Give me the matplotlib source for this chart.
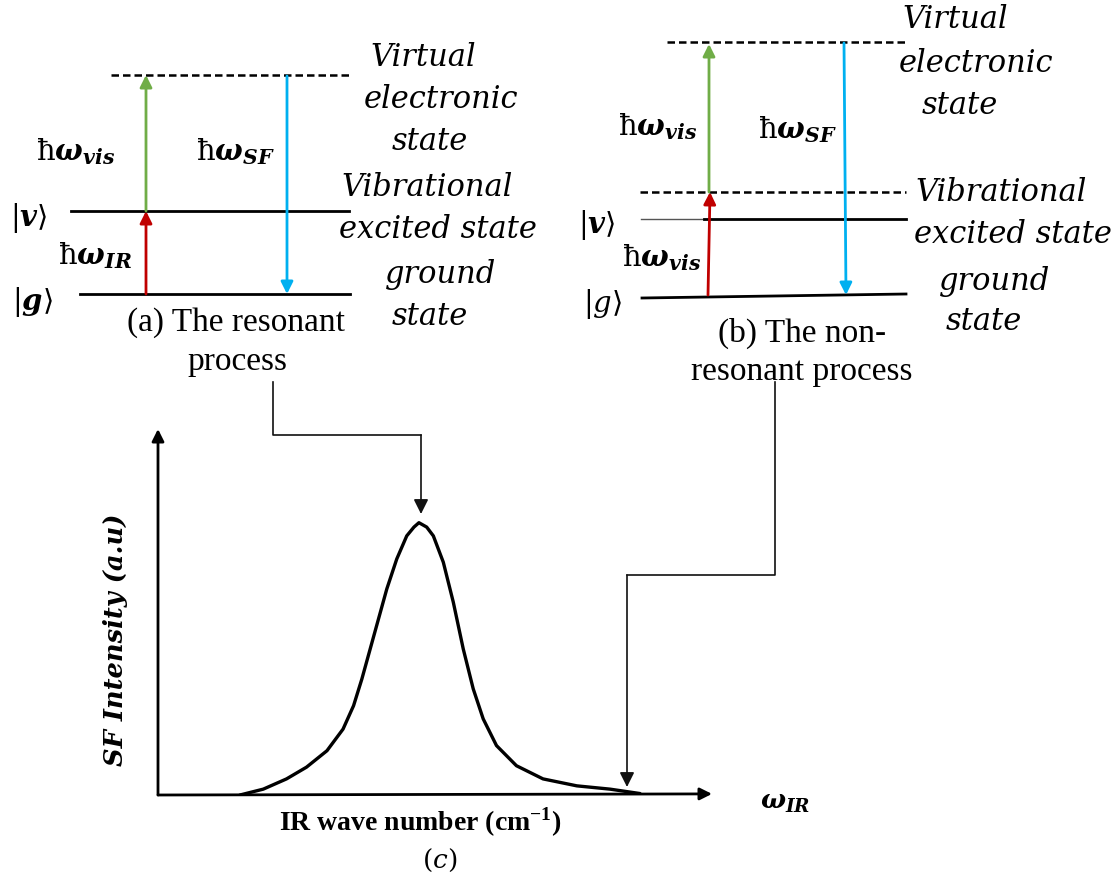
import matplotlib
matplotlib.use("Agg")
import matplotlib.pyplot as plt

plt.rcParams['mathtext.fontset'] = 'custom'
plt.rcParams['mathtext.rm'] = 'DejaVu Serif'
plt.rcParams['mathtext.it'] = 'DejaVu Serif:italic'
plt.rcParams['mathtext.bf'] = 'DejaVu Serif:italic:bold'
plt.rcParams['mathtext.sf'] = 'Liberation Serif:bold'

# SF spectrum, both axes in arbitrary units (0-100)
ir_wavenumber = [14.8, 19.0, 23.2, 26.8, 30.5, 33.4, 35.3, 36.8, 38.3, 39.8,
                 41.3, 43.1, 44.9, 46.2, 47.1, 48.5, 49.7, 51.5, 53.3, 55.1,
                 56.9, 58.7, 61.1, 64.7, 69.5, 75.6, 81.6, 87.0]
sf_intensity = [0.0, 1.6, 4.4, 7.6, 12.1, 18.0, 24.4, 31.7, 39.9, 48.1,
                56.3, 64.5, 70.8, 73.2, 74.4, 73.2, 70.8, 63.6, 52.7, 39.9,
                29.0, 20.8, 13.5, 8.0, 4.4, 2.5, 1.6, 0.4]

state_labels = [['Virtual', 'electronic', 'state'],
                ['Vibrational', 'excited state'],
                ['ground', 'state']]
panel_titles = [['(a) The resonant', 'process'],
                ['(b) The non-', 'resonant process']]

GREEN = '#70AD47'
RED = '#C00000'
BLUE = '#00B0F0'

fig = plt.figure(figsize=(11.17, 8.78), dpi=100)
ax = fig.add_axes([0, 0, 1, 1])
ax.set_xlim(0, 1117)
ax.set_ylim(878, 0)
ax.axis('off')

ital = dict(family='DejaVu Serif', style='italic', fontsize=22, ha='center', va='center')
serif = dict(family='Liberation Serif', fontsize=24, ha='center', va='center')
mlab = dict(fontsize=21, ha='center', va='center')


def arrow(a, x0, y0, x1, y1, color, lw=2, ms=18, trans=None):
    kw = dict(arrowstyle='-|>', color=color, lw=lw, mutation_scale=ms,
              shrinkA=0, shrinkB=0)
    if trans is None:
        a.annotate('', xy=(x1, y1), xytext=(x0, y0), arrowprops=kw)
    else:
        a.annotate('', xy=(x1, y1), xytext=(x0, y0), arrowprops=kw,
                   xycoords=trans, textcoords=trans, annotation_clip=False)


# ---- panel (a): resonant
ax.plot([111, 351], [76, 76], color='black', lw=1.8, ls=(0, (3, 1.6)))
ax.plot([71, 349], [212, 212], color='black', lw=2)
ax.plot([80, 350], [295, 295], color='black', lw=2)
arrow(ax, 146, 212, 146, 76, GREEN)
arrow(ax, 146, 295, 146, 212, RED)
arrow(ax, 287, 77, 287, 295, BLUE)
ax.text(76, 152, r'$\mathrm{\hbar}\mathbf{\omega_{vis}}$', **mlab)
ax.text(236, 152, r'$\mathrm{\hbar}\mathbf{\omega_{SF}}$', **mlab)
ax.text(95, 256, r'$\mathrm{\hbar}\mathbf{\omega_{IR}}$', **mlab)
ax.text(29, 218, r'$|\mathbf{v}\rangle$', **mlab)
ax.text(32, 302, r'$|\mathbf{g}\rangle$', **mlab)
for (cx, cy), line in zip([(423, 57), (441, 100), (430, 142)], state_labels[0]):
    ax.text(cx, cy, line, **ital)
for (cx, cy), line in zip([(427, 188), (438, 230)], state_labels[1]):
    ax.text(cx, cy, line, **ital)
for (cx, cy), line in zip([(441, 275), (430, 317)], state_labels[2]):
    ax.text(cx, cy, line, **ital)
ax.text(236, 323, panel_titles[0][0], **serif)
ax.text(237, 362, panel_titles[0][1], **serif)

# ---- panel (b): non-resonant
ax.plot([667, 905], [43, 43], color='black', lw=1.8, ls=(0, (3, 1.6)))
ax.plot([640, 906], [193, 193], color='black', lw=1.8, ls=(0, (3, 1.6)))
ax.plot([641, 705], [220, 220], color='#555555', lw=1)
ax.plot([704, 906], [220, 220], color='black', lw=2)
ax.plot([642, 906], [299, 295], color='black', lw=2)
arrow(ax, 709, 193, 709, 45, GREEN)
arrow(ax, 708, 296, 710, 193, RED)
arrow(ax, 844, 44, 846, 296, BLUE)
ax.text(658, 127, r'$\mathrm{\hbar}\mathbf{\omega_{vis}}$', **mlab)
ax.text(798, 130, r'$\mathrm{\hbar}\mathbf{\omega_{SF}}$', **mlab)
ax.text(662, 258, r'$\mathrm{\hbar}\mathbf{\omega_{vis}}$', **mlab)
ax.text(597, 225, r'$|\mathbf{v}\rangle$', **mlab)
ax.text(603, 304, r'$|g\rangle$', **mlab)
for (cx, cy), line in zip([(955, 20), (976, 63), (960, 106)], state_labels[0]):
    ax.text(cx, cy, line, **ital)
for (cx, cy), line in zip([(1001, 193), (1013, 235)], state_labels[1]):
    ax.text(cx, cy, line, **ital)
for (cx, cy), line in zip([(995, 282), (984, 322)], state_labels[2]):
    ax.text(cx, cy, line, **ital)
ax.text(802, 333, panel_titles[1][0], **serif)
ax.text(802, 372, panel_titles[1][1], **serif)

# ---- connectors from the level diagrams down to the spectrum
ax.plot([273, 273, 421], [383, 436, 436], color='#111111', lw=1.2)
arrow(ax, 421, 436, 421, 515, '#111111', lw=1.2, ms=22)
ax.plot([775, 775, 627], [383, 576, 576], color='#111111', lw=1.2)
arrow(ax, 627, 576, 627, 788, '#111111', lw=1.2, ms=22)

# ---- panel (c): SF spectrum
ax2 = fig.add_axes([158 / 1117, (878 - 796) / 878, 554 / 1117, 366 / 878])
ax2.set_xlim(0, 100)
ax2.set_ylim(0, 100)
ax2.axis('off')
ax2.plot(ir_wavenumber, sf_intensity, color='black', lw=2.4,
         solid_capstyle='round', solid_joinstyle='round')
arrow(ax2, 0, 0, 0, 100, 'black', lw=2, ms=18, trans='data')
arrow(ax2, 0, 0, 100, 0.3, 'black', lw=2, ms=18, trans='data')

ax.text(785, 802, r'$\mathbf{\omega_{IR}}$', fontsize=19, ha='center', va='center')
ax.text(116, 640, 'SF Intensity (a.u)', family='DejaVu Serif', style='italic',
        weight='bold', fontsize=18.5, rotation=90, ha='center', va='center')
ax.text(420, 822, r'IR wave number (cm$^{\mathsf{-1}}$)', family='Liberation Serif',
        weight='bold', fontsize=20, ha='center', va='center')
ax.text(440, 860, r'$\mathrm{(}c\mathrm{)}$', fontsize=19, ha='center', va='center')

fig.savefig('out.png', dpi=100)
